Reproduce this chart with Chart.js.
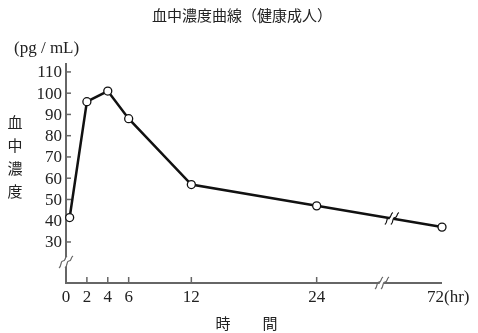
<!DOCTYPE html>
<html>
<head>
<meta charset="utf-8">
<script src="https://cdn.jsdelivr.net/npm/chart.js@4.5.0/dist/chart.umd.min.js"></script>
<style>
  html, body { margin: 0; padding: 0; background: #fff; }
  #wrap { width: 478px; height: 333px; position: relative; }
</style>
</head>
<body>
<div id="wrap"><canvas id="blood_chart"></canvas></div>
<script>
// data (first point sits just right of the axis)
const hours = [0.35, 2, 4, 6, 12, 24, 72];
const concentration = [41.5, 96, 101, 88, 57, 47, 37];
const y_ticks = [30, 40, 50, 60, 70, 80, 90, 100, 110];
const x_ticks = [0, 2, 4, 6, 12, 24, 72];
const x_tick_marks = [2, 4, 6, 12, 24];
const title_text = "血中濃度曲線（健康成人）";
const y_unit = "(pg / mL)";
const y_title = ["血", "中", "濃", "度"];
const x_title = ["時", "間"];

// time axis is squeezed after 24 hr (broken axis)
function to_axis(h) {
  return h <= 24 ? h : 24 + (h - 24) / 4;
}

const serif = "'Liberation Serif', 'DejaVu Serif', serif";
const cjk = "'Noto Sans CJK JP', sans-serif";
const axis_color = "#666";

function draw_break(ctx, x, y, color) {
  // two little wavy strokes with a white gap between them
  ctx.save();
  ctx.fillStyle = "#fff";
  ctx.beginPath();
  ctx.moveTo(x - 5, y + 6);
  ctx.lineTo(x + 1, y - 6);
  ctx.lineTo(x + 5, y - 6);
  ctx.lineTo(x - 1, y + 6);
  ctx.closePath();
  ctx.fill();
  ctx.strokeStyle = color;
  ctx.lineWidth = 1.2;
  for (const dx of [-3, 3]) {
    ctx.beginPath();
    ctx.moveTo(x + dx - 4, y + 6);
    ctx.bezierCurveTo(x + dx - 1, y + 4, x + dx - 3, y - 1, x + dx, y - 1);
    ctx.bezierCurveTo(x + dx + 3, y - 1, x + dx + 1, y - 4, x + dx + 4, y - 6);
    ctx.stroke();
  }
  ctx.restore();
}

const axis_plugin = {
  id: "axis_plugin",
  beforeDatasetsDraw(chart) {
    const ctx = chart.ctx;
    const area = chart.chartArea;
    const xs = chart.scales.x;
    const ys = chart.scales.y;
    ctx.save();
    ctx.strokeStyle = axis_color;
    ctx.lineWidth = 2;
    ctx.beginPath();
    ctx.moveTo(area.left, area.top);
    ctx.lineTo(area.left, area.bottom);
    ctx.lineTo(area.right, area.bottom);
    ctx.stroke();

    ctx.lineWidth = 1.5;
    ctx.fillStyle = "#222";
    ctx.font = "17px " + serif;
    ctx.textAlign = "right";
    ctx.textBaseline = "middle";
    for (const v of y_ticks) {
      const py = ys.getPixelForValue(v);
      ctx.beginPath();
      ctx.moveTo(area.left, py);
      ctx.lineTo(area.left + 5, py);
      ctx.stroke();
      ctx.fillText(String(v), area.left - 4, py + 1);
    }
    for (const h of x_tick_marks) {
      const px = xs.getPixelForValue(to_axis(h));
      ctx.beginPath();
      ctx.moveTo(px, area.bottom);
      ctx.lineTo(px, area.bottom - 6);
      ctx.stroke();
    }
    ctx.textAlign = "center";
    for (const h of x_ticks) {
      const px = xs.getPixelForValue(to_axis(h));
      if (h === 72) {
        ctx.textAlign = "left";
        ctx.fillText("72(hr)", px - 15, area.bottom + 15);
        ctx.textAlign = "center";
      } else {
        ctx.fillText(String(h), px, area.bottom + 15);
      }
    }
    ctx.restore();

    // breaks on the axes
    draw_break(ctx, area.left, 262, axis_color);
    draw_break(ctx, 382, area.bottom, axis_color);
  },
  afterDatasetsDraw(chart) {
    const ctx = chart.ctx;
    const xs = chart.scales.x;
    const ys = chart.scales.y;
    // break on the line between 24 and 72 hr
    const bx = 31.2;
    const a = to_axis(24), b = to_axis(72);
    const t = (bx - a) / (b - a);
    const v = concentration[5] + t * (concentration[6] - concentration[5]);
    draw_break(ctx, xs.getPixelForValue(bx), ys.getPixelForValue(v), "#111");
  },
  afterDraw(chart) {
    const ctx = chart.ctx;
    ctx.save();
    ctx.fillStyle = "#222";
    ctx.textAlign = "center";
    ctx.textBaseline = "middle";
    ctx.font = "15px " + cjk;
    ctx.fillText(title_text, 242, 15);
    ctx.font = "17px " + serif;
    ctx.textAlign = "left";
    ctx.fillText(y_unit, 14, 49);
    ctx.font = "15px " + cjk;
    ctx.textAlign = "center";
    y_title.forEach((c, i) => ctx.fillText(c, 15, 122 + i * 23));
    ctx.fillText(x_title[0], 223, 323);
    ctx.fillText(x_title[1], 270, 323);
    ctx.restore();
  }
};

new Chart(document.getElementById("blood_chart"), {
  type: "line",
  data: {
    datasets: [{
      data: hours.map((h, i) => ({ x: to_axis(h), y: concentration[i] })),
      borderColor: "#111",
      borderWidth: 2.5,
      pointRadius: 4,
      pointBorderWidth: 1.3,
      pointBackgroundColor: "#fff",
      pointBorderColor: "#111",
      tension: 0,
      clip: false
    }]
  },
  options: {
    responsive: true,
    maintainAspectRatio: false,
    animation: false,
    events: [],
    layout: { padding: { left: 66, right: 36, top: 63, bottom: 50 } },
    plugins: { legend: { display: false }, tooltip: { enabled: false } },
    scales: {
      x: { type: "linear", display: false, min: 0, max: 36 },
      y: { type: "linear", display: false, min: 10.7, max: 114.2 }
    }
  },
  plugins: [axis_plugin]
});
</script>
</body>
</html>
